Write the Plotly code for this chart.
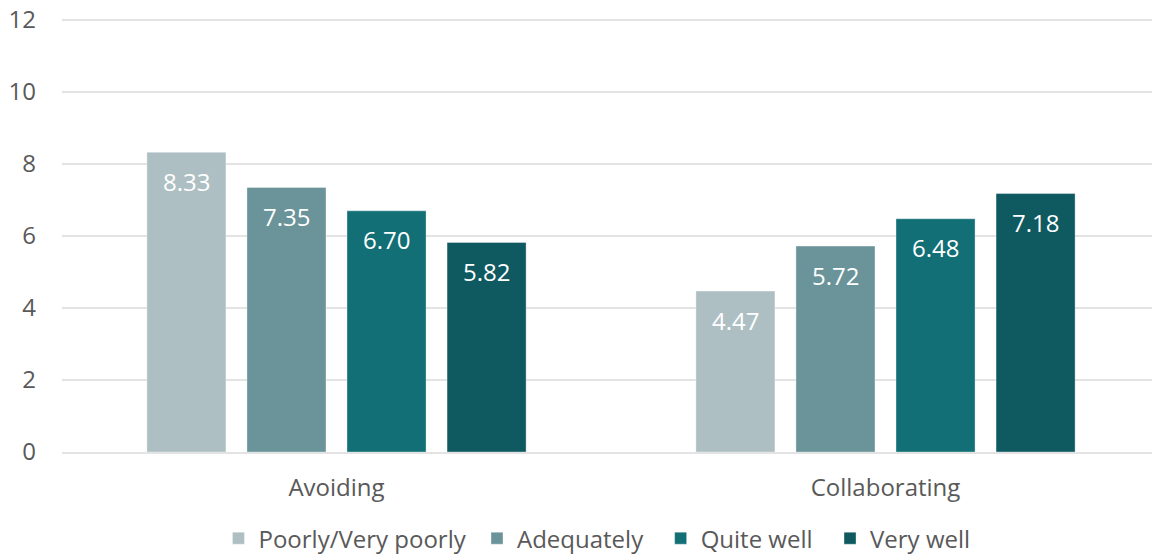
import plotly.graph_objects as go

categories = ["Avoiding", "Collaborating"]
series_names = ["Poorly/Very poorly", "Adequately", "Quite well", "Very well"]
poorly = [8.33, 4.47]
adequately = [7.35, 5.72]
quite_well = [6.70, 6.48]
very_well = [5.82, 7.18]
y_ticks = [0, 2, 4, 6, 8, 10, 12]

colors = ["#AEBFC3", "#6A9499", "#116F75", "#0F5961"]
values = [poorly, adequately, quite_well, very_well]
label_shift = [-150, -50, 50, 150]  # pixel offset of each bar within its group
legend_pad = ["\u00a0", "\u00a0\u00a0", "\u00a0\u00a0", ""]  # extra room between legend items

fig = go.Figure()
for name, vals, col, pad in zip(series_names, values, colors, legend_pad):
    fig.add_trace(go.Bar(
        x=categories, y=vals, name=name + pad,
        marker=dict(color=col, line=dict(color="rgba(255,255,255,0.35)", width=1)),
    ))

# value labels sit a bit lower inside the bars than plotly's own inside text
for vals, dx in zip(values, label_shift):
    for cat, v in zip(categories, vals):
        fig.add_annotation(x=cat, y=v, xref="x", yref="y", text=f"{v:.2f}",
                           showarrow=False, xshift=dx, yshift=-29,
                           font=dict(color="white", size=24, family="Open Sans"))

# page body has an 8px margin, so the figure is a bit smaller than the window
fig.update_layout(
    width=1152, height=547,
    barmode="group", bargap=0.271, bargroupgap=0.21,
    plot_bgcolor="white", paper_bgcolor="white",
    margin=dict(l=54, r=0, t=11, b=103, autoexpand=False),
    font=dict(family="Open Sans", size=24, color="#595959"),
    legend=dict(orientation="h", x=0.4872, xanchor="center", y=-0.200, yanchor="middle",
                font=dict(size=24, color="#595959"), itemwidth=30, traceorder="normal"),
)
# small headroom above 12 so plotly keeps the top gridline
fig.update_yaxes(range=[0, 12.03], tickvals=y_ticks, gridcolor="#E3E3E3", gridwidth=2,
                 zeroline=False, showline=False, ticks="", ticklabelstandoff=25,
                 ticklabeloverflow="allow", tickfont=dict(size=24, color="#595959"))
fig.update_xaxes(showline=True, linecolor="#E3E3E3", linewidth=2, ticks="",
                 tickfont=dict(size=24, color="#595959"), ticklabelstandoff=13)

fig.write_html("out.html")
